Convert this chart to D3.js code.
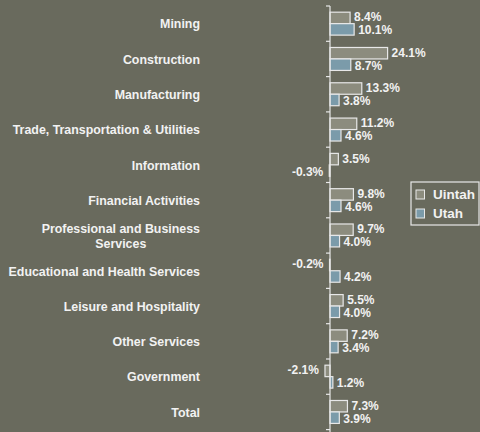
<!DOCTYPE html>
<html><head><meta charset="utf-8">
<script src="https://cdn.jsdelivr.net/npm/d3@7"></script>
<style>
html,body{margin:0;padding:0;background:#696A5D;}
svg{display:block;font-family:"Liberation Sans",Arial,sans-serif;font-weight:bold;}
</style></head>
<body>
<svg id="chart" width="480" height="432"></svg>
<script>
const categories = ["Mining","Construction","Manufacturing","Trade, Transportation & Utilities","Information","Financial Activities","Professional and Business|Services","Educational and Health Services","Leisure and Hospitality","Other Services","Government","Total"];
const uintah = [8.4, 24.1, 13.3, 11.2, 3.5, 9.8, 9.7, -0.2, 5.5, 7.2, -2.1, 7.3];
const utah   = [10.1, 8.7, 3.8, 4.6, -0.3, 4.6, 4.0, 4.2, 4.0, 3.4, 1.2, 3.9];
const seriesNames = ["Uintah","Utah"];
const colors = ["#8C8C7E","#7B9BAA"];

const svg = d3.select("#chart");
const W = 480, H = 432;
svg.append("rect").attr("width",W).attr("height",H).attr("fill","#696A5D");

const y = d3.scaleBand().domain(categories).range([6, 6 + 35.3*12]).paddingInner(0.35).paddingOuter(0.175);
const yb = d3.scaleBand().domain(categories).range([6, 6 + 35.3*12]);
const x = d3.scaleLinear().domain([-5, 25]).range([330 - 5*2.39, 330 + 25*2.39]);
const sub = d3.scaleBand().domain(seriesNames).range([0, y.bandwidth()]);

const data = categories.map((c,i)=>({cat:c, vals:[uintah[i], utah[i]]}));
const fmt = v => v.toFixed(1) + "%";

// bars
const g = svg.append("g");
data.forEach(d=>{
  d.vals.forEach((v,j)=>{
    const yy = y(d.cat) + sub(seriesNames[j]);
    g.append("rect")
      .attr("x", Math.min(x(0), x(v)))
      .attr("y", yy)
      .attr("width", Math.abs(x(v)-x(0)))
      .attr("height", sub.bandwidth())
      .attr("fill", colors[j])
      .attr("stroke", "#E8E8E8")
      .attr("stroke-width", 1.2);
    const lab = g.append("text")
      .attr("y", yy + sub.bandwidth()/2 + (j === 0 ? -0.8 : 0.8))
      .attr("dy","0.35em")
      .attr("font-size", 12)
      .attr("fill","#F2F2F2")
      .text(fmt(v));
    if (v >= 0) lab.attr("x", x(v) + 4).attr("text-anchor","start");
    else lab.attr("x", x(v) - 6).attr("text-anchor","end");
  });
});

// axis
const axisG = svg.append("g").attr("transform","translate(330,0)");
axisG.append("line").attr("x1",0).attr("x2",0).attr("y1",6).attr("y2",H).attr("stroke","#E8E8E8").attr("stroke-width",1.2);
const ticks = categories.map(c=>yb(c)).concat([yb(categories[categories.length-1]) + yb.step()]);
ticks.forEach(t=>{
  axisG.append("line").attr("x1",-4).attr("x2",0).attr("y1",t).attr("y2",t).attr("stroke","#E8E8E8").attr("stroke-width",1.2);
});

// category labels
const catFont = 12.4;
categories.forEach(c=>{
  const lines = c.split("|");
  const cy = yb(c) + yb.step()/2 + 0.5;
  if (lines.length === 1) {
    svg.append("text").attr("x",200).attr("y",cy).attr("dy","0.35em")
      .attr("text-anchor","end").attr("font-size",catFont).attr("fill","#F2F2F2").text(lines[0]);
  } else {
    const t0 = svg.append("text").attr("x",200).attr("y",cy - 7.5).attr("dy","0.35em")
      .attr("text-anchor","end").attr("font-size",catFont).attr("fill","#F2F2F2").text(lines[0]);
    const w = t0.node().getComputedTextLength();
    const mid = 200 - w/2;
    t0.attr("x", mid).attr("text-anchor","middle");
    svg.append("text").attr("x",mid).attr("y",cy + 7.5).attr("dy","0.35em")
      .attr("text-anchor","middle").attr("font-size",catFont).attr("fill","#F2F2F2").text(lines[1]);
  }
});

// legend
const lg = svg.append("g").attr("transform","translate(411,182)");
lg.append("rect").attr("width",68).attr("height",43).attr("fill","none").attr("stroke","#E8E8E8").attr("stroke-width",1.2);
seriesNames.forEach((s,i)=>{
  const yy = 8 + i*19;
  lg.append("rect").attr("x",5).attr("y",yy).attr("width",8.5).attr("height",9).attr("fill",colors[i]).attr("stroke","#E8E8E8").attr("stroke-width",1);
  lg.append("text").attr("x",22).attr("y",yy+4.5).attr("dy","0.36em").attr("font-size",13.5).attr("fill","#F2F2F2").text(s);
});
</script>
</body></html>
